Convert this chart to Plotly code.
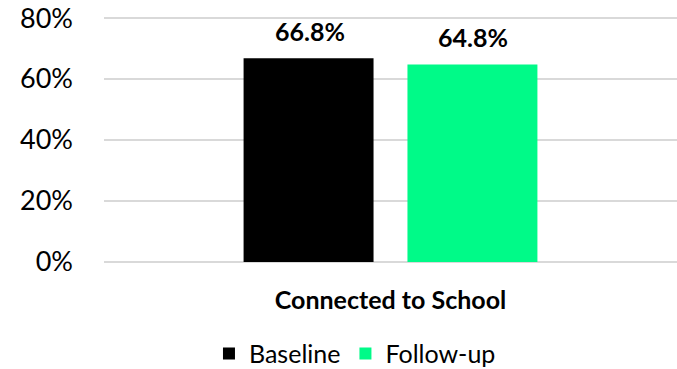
import plotly.graph_objects as go

categories = ["Connected to School"]
series_names = ["Baseline", "Follow-up"]
baseline = [66.8]
follow_up = [64.8]
colors = ["#000000", "#00FA88"]
y_ticks = [0, 20, 40, 60, 80]
y_tick_labels = ["0%", "20%", "40%", "60%", "80%"]

FONT = "Lato"

fig = go.Figure()
for name, vals, col in zip(series_names, [baseline, follow_up], colors):
    fig.add_trace(go.Bar(x=categories, y=vals, name=name, marker=dict(color=col, line=dict(width=0))))

offsets = [-81, 82]
for vals, off in zip([baseline, follow_up], offsets):
    for c, v in zip(categories, vals):
        fig.add_annotation(x=c, y=v, text=f"<b>{v:.1f}%</b>", showarrow=False,
                           xshift=off, yanchor="bottom", yshift=10,
                           font=dict(family=FONT, size=25, color="#000000"))

fig.update_layout(
    width=677, height=369,
    margin=dict(l=104, r=0, t=15, b=104, autoexpand=False),
    paper_bgcolor="white", plot_bgcolor="white",
    barmode="group", bargap=0.428, bargroupgap=0.207,
    showlegend=True,
    legend=dict(orientation="h", x=0.438, xanchor="center", y=-0.355, yanchor="middle",
                font=dict(family=FONT, size=25, color="#000000"), itemwidth=30,
                traceorder="normal"),
    font=dict(family=FONT, color="#000000"),
)
fig.update_yaxes(range=[-1, 81], tickvals=y_ticks, ticktext=y_tick_labels,
                 showgrid=True, gridcolor="#D9D9D9", gridwidth=1.5, zeroline=False,
                 showline=False, ticklabelstandoff=30, automargin=False,
                 tickfont=dict(family=FONT, size=27, color="#000000"))
fig.update_xaxes(showgrid=False, showline=False, ticks="", ticklabelstandoff=18,
                 automargin=False,
                 tickfont=dict(family=FONT, size=25, color="#000000"),
                 tickvals=categories, ticktext=[f"<b>{c}</b>" for c in categories])

fig.write_html("out.html", config={"displayModeBar": False},
               post_script="document.body.style.margin='0';document.body.style.overflow='hidden';")
